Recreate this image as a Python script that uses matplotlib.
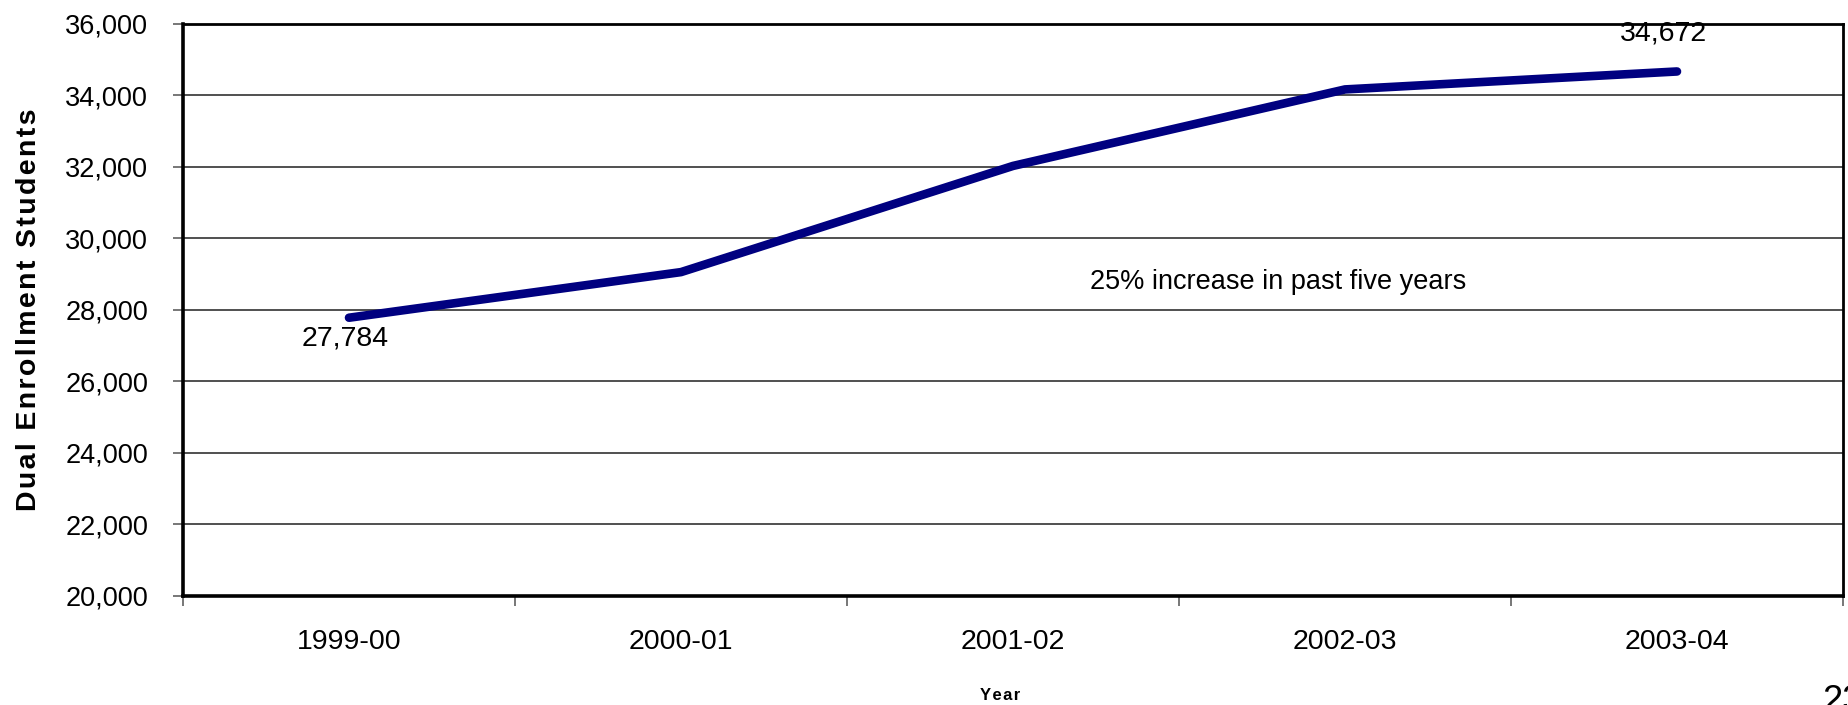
import matplotlib.pyplot as plt

plt.rcParams['font.family'] = ['Liberation Sans', 'DejaVu Sans']

# Dual enrollment headcount by academic year
years = ['1999-00', '2000-01', '2001-02', '2002-03', '2003-04']
students = [27784, 29060, 32030, 34170, 34672]
y_ticks = [20000, 22000, 24000, 26000, 28000, 30000, 32000, 34000, 36000]


def spaced(s):
    # loose letter spacing, as in the original chart's axis titles
    return '\u200a'.join(s)


fig = plt.figure(figsize=(18.49, 7.05), dpi=100)
ax = fig.add_axes([183 / 1849, 1 - 596 / 705, (1843 - 183) / 1849, (596 - 24) / 705])

x = list(range(len(years)))
ax.plot(x, students, color='#000080', linewidth=6.2, solid_capstyle='round',
        solid_joinstyle='round', zorder=3)

ax.set_xlim(-0.5, len(years) - 0.5)
ax.set_ylim(y_ticks[0], y_ticks[-1])
ax.set_yticks(y_ticks)
ax.set_yticklabels([f'{v:,}' for v in y_ticks], fontsize=19.5)
ax.yaxis.grid(True, color='#202020', linewidth=1.1)
ax.set_axisbelow(True)

# category labels centred, tick marks between categories
ax.set_xticks(x)
ax.set_xticklabels(years, fontsize=20.5)
ax.set_xticks([i - 0.5 for i in range(len(years) + 1)], minor=True)
ax.tick_params(axis='x', which='major', length=0, pad=24)
ax.tick_params(axis='x', which='minor', length=7, width=1.2, color='#606060')
ax.tick_params(axis='y', length=7, width=1.2, color='#606060', pad=18)

ax.spines['left'].set_linewidth(2.6)
ax.spines['bottom'].set_linewidth(2.6)
ax.spines['top'].set_linewidth(2.0)
ax.spines['right'].set_linewidth(2.0)

ax.set_ylabel(spaced('Dual Enrollment Students'), fontsize=20.5, fontweight='bold')
ax.yaxis.set_label_coords(-0.085, 0.5)

fig.text(1000 / 1849, 1 - 696 / 705, spaced('Year'), fontsize=12,
         fontweight='bold', ha='center', va='center')

# value labels for first and last points
ax.annotate(f'{students[0]:,}', (x[0], students[0]), xytext=(-3, -15),
            textcoords='offset points', ha='center', va='center', fontsize=20.5)
ax.annotate(f'{students[-1]:,}', (x[-1], students[-1]), xytext=(-10, 27),
            textcoords='offset points', ha='center', va='center', fontsize=20.5)

ax.text(2.80, 28770, '25% increase in past five years', ha='center', va='center',
        fontsize=19.5)

fig.text(1822 / 1849, 1 - 684 / 705, '23', fontsize=26, ha='left', va='top')

fig.savefig('out.png', dpi=100)
